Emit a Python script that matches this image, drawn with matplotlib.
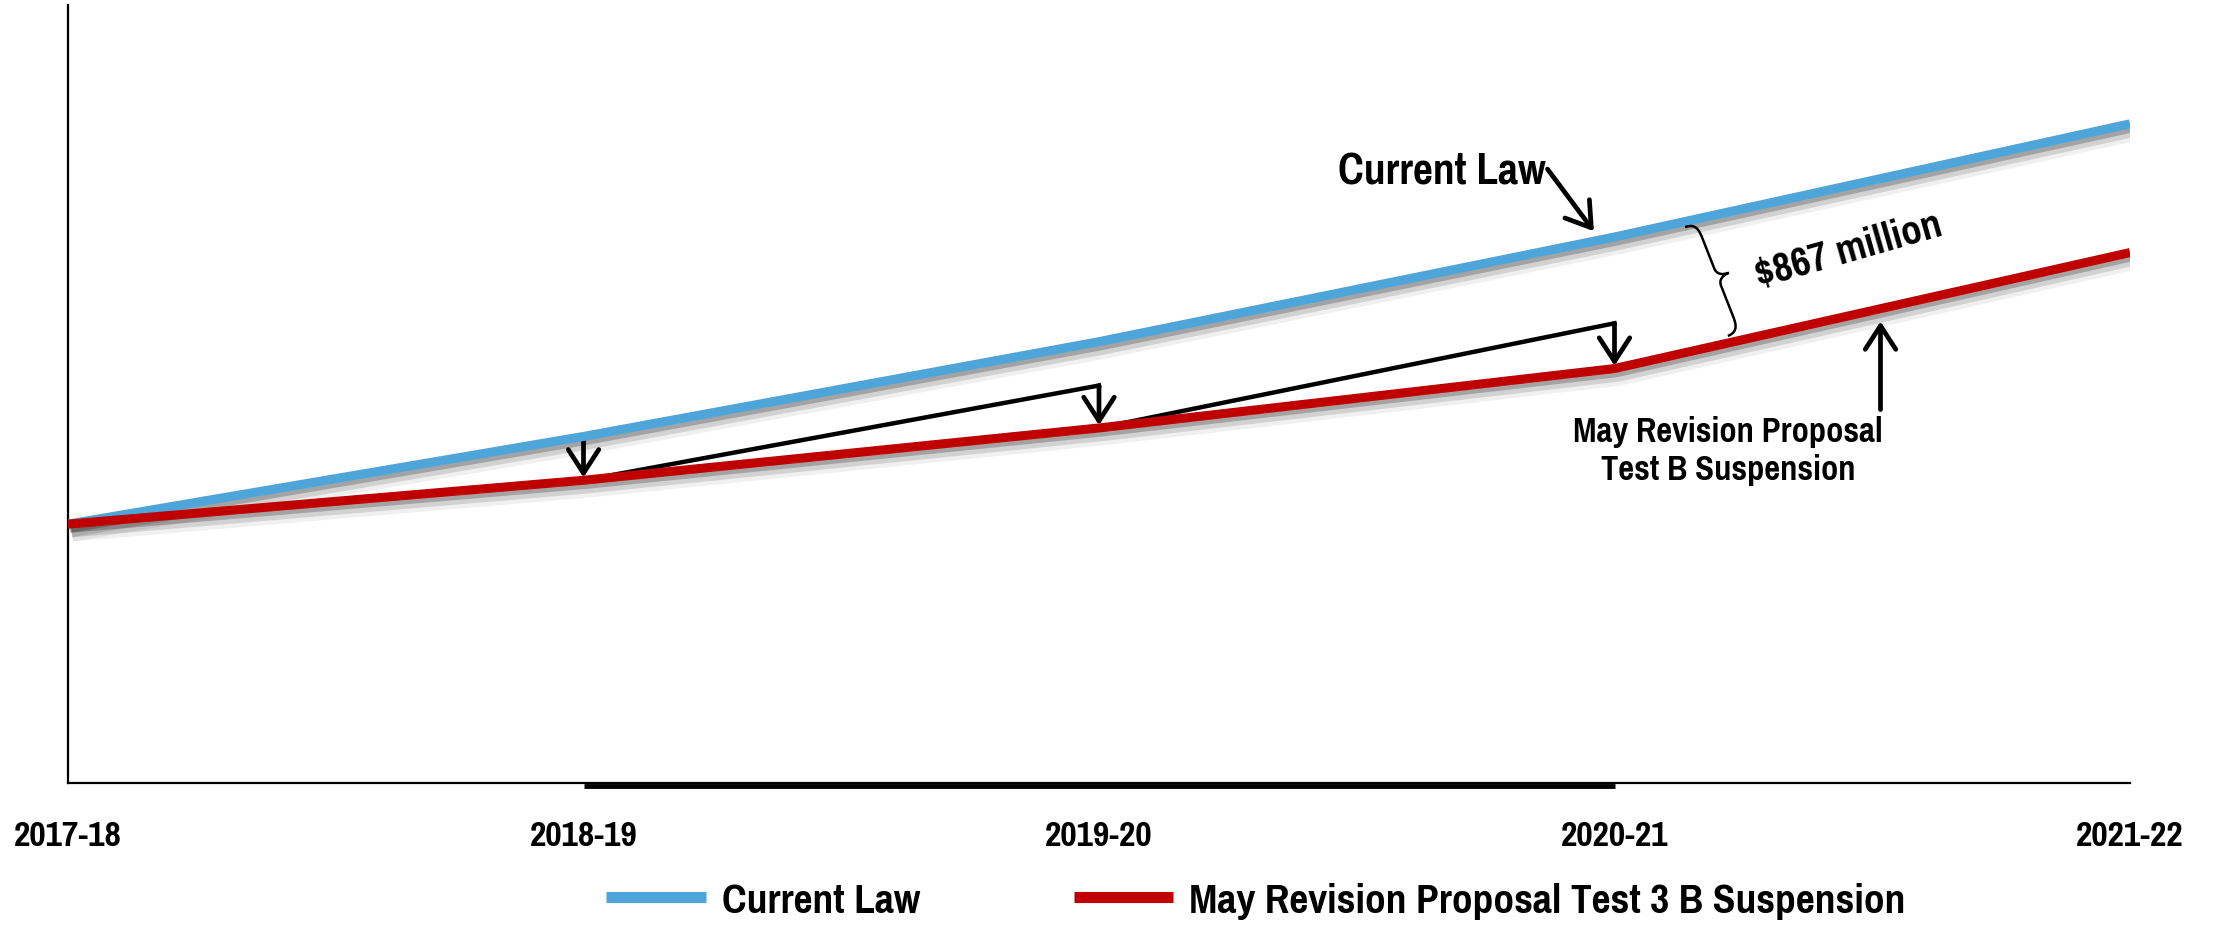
import numpy as np
import matplotlib
matplotlib.use('Agg')
import matplotlib.pyplot as plt
import matplotlib.patheffects as pe
import matplotlib.transforms as mtransforms
from matplotlib.path import Path
from matplotlib.patches import PathPatch
from matplotlib.lines import Line2D
from matplotlib import font_manager as fm

installed = set(f.name for f in fm.fontManager.ttflist)
narrow = [f for f in ['Pragati Narrow', 'Archivo Narrow', 'Roboto Condensed', 'PT Sans Narrow',
                      'Liberation Sans Narrow'] if f in installed]
plt.rcParams['font.family'] = narrow[:1] + ['DejaVu Sans']
plt.rcParams['font.weight'] = 'bold'

years = ['2017-18', '2018-19', '2019-20', '2020-21', '2021-22']
current_law = [183, 245, 312, 386, 466]
may_revision = [183, 214, 251, 293, 375]
series_labels = ['Current Law', 'May Revision Proposal Test 3 B Suspension']
blue = '#4EA5D9'
red = '#C00000'

x = np.arange(len(years))

fig = plt.figure(figsize=(22.19, 9.29), dpi=100)
ax = fig.add_axes([68/2219, 1-784/929, (2130-68)/2219, (784-6)/929])

shadow = [pe.SimpleLineShadow(offset=(1.5, -3), shadow_color='k', alpha=0.22),
          pe.SimpleLineShadow(offset=(2.5, -5), shadow_color='k', alpha=0.12, linewidth=9),
          pe.SimpleLineShadow(offset=(3, -7), shadow_color='k', alpha=0.06, linewidth=11),
          pe.Normal()]

ax.plot(x, current_law, color=blue, lw=6.5, solid_capstyle='butt', zorder=3, path_effects=shadow)
ax.plot(x, may_revision, color=red, lw=6.5, solid_capstyle='butt', zorder=4, path_effects=shadow)

arrow_kw = dict(arrowstyle='->,head_length=0.85,head_width=0.55', color='black',
                lw=3.4, mutation_scale=20)

# growth triangles: what each year would be with current-law growth
for i in range(1, 4):
    top = may_revision[i-1] + (current_law[i] - current_law[i-1])
    ax.plot([x[i-1], x[i]], [may_revision[i-1], top], color='black', lw=3.2, zorder=2)
    ax.annotate('', xy=(x[i], may_revision[i]), xytext=(x[i], top), zorder=2,
                arrowprops=dict(shrinkA=0, shrinkB=2, **arrow_kw))

ax.set_xlim(0, 4)
ax.set_ylim(0, 550)
ax.set_xticks(x)
ax.set_xticklabels(years, fontsize=28, fontweight='bold')
ax.tick_params(axis='x', length=0, pad=26)
ax.set_yticks([])
for s in ['top', 'right']:
    ax.spines[s].set_visible(False)
for s in ['left', 'bottom']:
    ax.spines[s].set_linewidth(1.6)
low = mtransforms.offset_copy(ax.transData, fig=fig, y=-2.5, units='dots')
ax.plot([1, 3], [0, 0], color='black', lw=3.5, clip_on=False, solid_capstyle='butt', zorder=5,
        transform=low)

def cl(v):
    return np.interp(v, x, current_law)

def mr(v):
    return np.interp(v, x, may_revision)

# Current Law label
ax.text(2.665, 432, 'Current Law', fontsize=34, fontweight='bold', ha='center', va='center')
ax.annotate('', xy=(2.96, cl(2.96) + 7), xytext=(2.87, 434),
            arrowprops=dict(shrinkA=0, shrinkB=0, **arrow_kw))

# May Revision label
ax.text(3.22, 235.5, 'May Revision Proposal\nTest B Suspension', fontsize=27, fontweight='bold',
        ha='center', va='center', linespacing=1.25)
ax.annotate('', xy=(3.516, mr(3.516) - 9), xytext=(3.516, 264),
            arrowprops=dict(shrinkA=0, shrinkB=0, **arrow_kw))

# brace and gap label
ax.text(3.455, 377, '$867 million', fontsize=32, fontweight='bold', ha='center', va='center',
        rotation=16)
A = ax.transData.transform((3.137, cl(3.137) - 4))
B = ax.transData.transform((3.22, mr(3.22) + 5))
d = B - A
L = np.hypot(*d)
d = d / L
n = np.array([-d[1], d[0]])
w = 24
local = [(0, 0), (0, 0.5*w), (0.08*L, 0.5*w), (0.15*L, 0.5*w),
         (0.42*L, 0.5*w),
         (0.48*L, 0.5*w), (0.5*L, 0.75*w), (0.5*L, w),
         (0.5*L, 0.75*w), (0.52*L, 0.5*w), (0.58*L, 0.5*w),
         (0.85*L, 0.5*w),
         (0.92*L, 0.5*w), (L, 0.5*w), (L, 0)]
pix = np.array([A + u*d + v*n for u, v in local])
verts = ax.transData.inverted().transform(pix)
codes = [Path.MOVETO, Path.CURVE4, Path.CURVE4, Path.CURVE4, Path.LINETO,
         Path.CURVE4, Path.CURVE4, Path.CURVE4, Path.CURVE4, Path.CURVE4, Path.CURVE4,
         Path.LINETO, Path.CURVE4, Path.CURVE4, Path.CURVE4]
ax.add_patch(PathPatch(Path(verts, codes), fill=False, lw=1.8, color='black', zorder=5))

handles = [Line2D([], [], color=blue, lw=8, solid_capstyle='butt'),
           Line2D([], [], color=red, lw=8, solid_capstyle='butt')]
fig.legend(handles, series_labels, loc='center', bbox_to_anchor=(0.566, 1-901/929), ncol=2,
           frameon=False, handlelength=2.2, handletextpad=0.36, columnspacing=3.4,
           prop={'weight': 'bold', 'size': 32.5})

fig.savefig('out.png', dpi=100)
